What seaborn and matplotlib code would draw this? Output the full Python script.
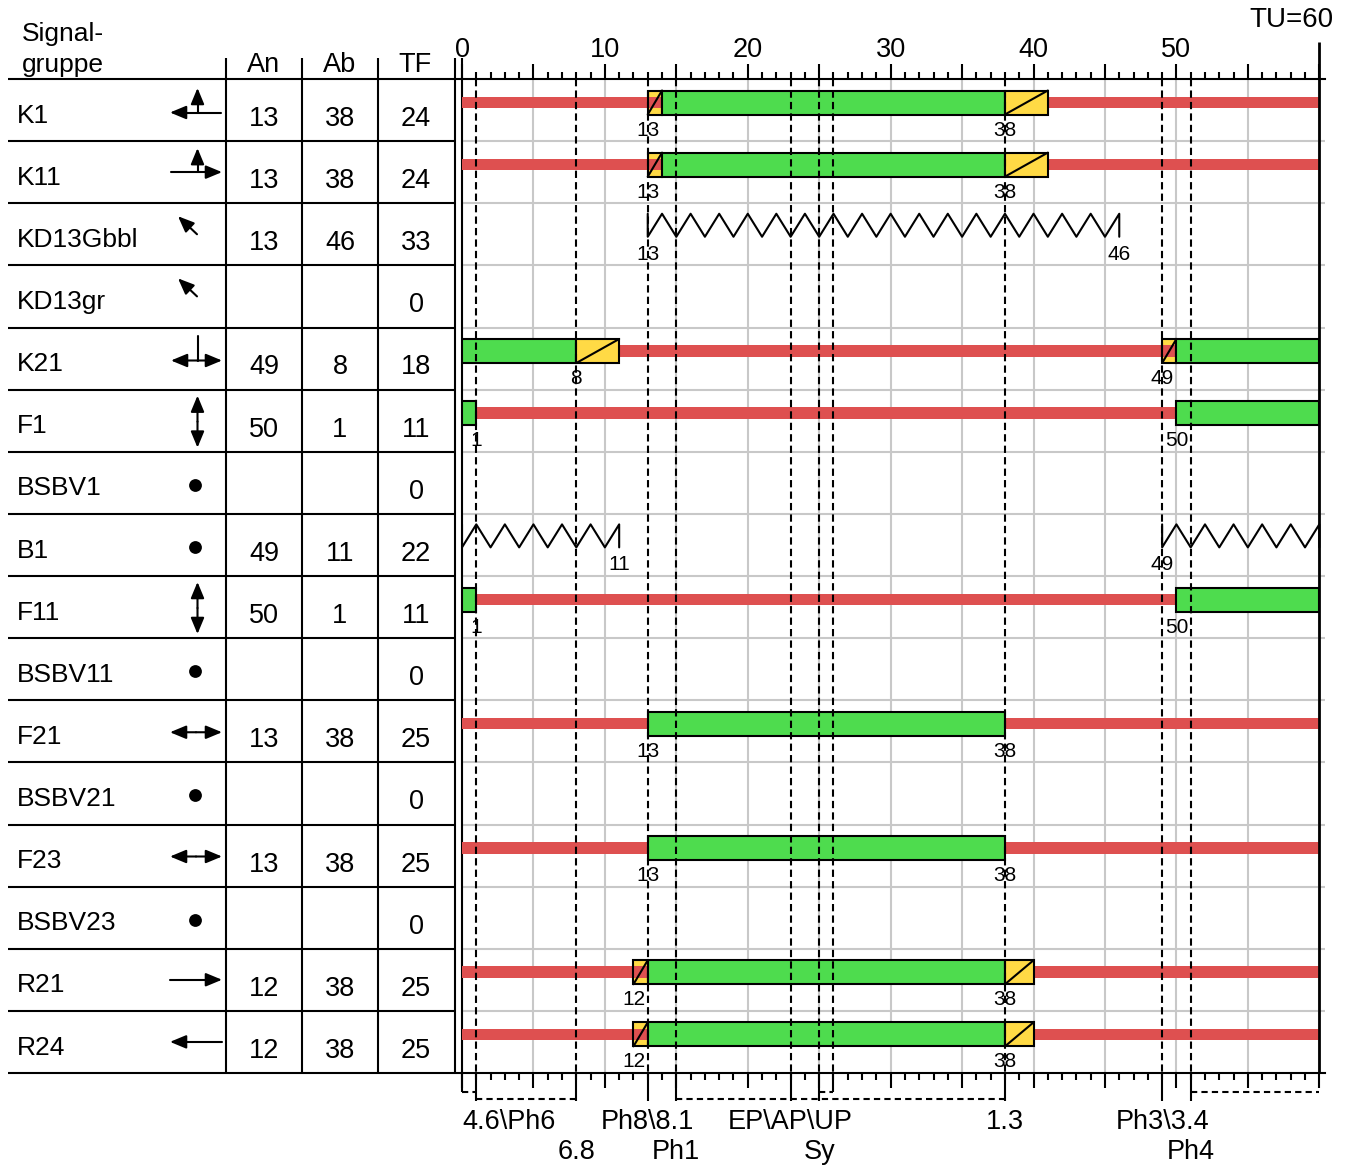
import numpy as np
import pandas as pd
import matplotlib
matplotlib.use("Agg")
import matplotlib.pyplot as plt
from matplotlib.ticker import MultipleLocator, FuncFormatter
import seaborn as sns

# ---------------- data ----------------
names = ["K1", "K11", "KD13Gbbl", "KD13gr", "K21", "F1", "BSBV1", "B1",
         "F11", "BSBV11", "F21", "BSBV21", "F23", "BSBV23", "R21", "R24"]
symbols = ["left_up", "right_up", "diag", "diag", "left_right_t", "up_down", "dot", "dot",
           "up_down", "dot", "left_right", "dot", "left_right", "dot", "right", "left"]
an = [13, 13, 13, None, 49, 50, None, 49, 50, None, 13, None, 13, None, 12, 12]
ab = [38, 38, 46, None, 8, 1, None, 11, 1, None, 38, None, 38, None, 38, 38]
tf = [24, 24, 33, 0, 18, 11, 0, 22, 11, 0, 25, 0, 25, 0, 25, 25]

red_iv = [[(0, 13), (41, 60)], [(0, 13), (41, 60)], [], [], [(11, 49)], [(1, 50)], [], [],
          [(1, 50)], [], [(0, 13), (38, 60)], [], [(0, 13), (38, 60)], [],
          [(0, 12), (40, 60)], [(0, 12), (40, 60)]]
redyellow_iv = [[(13, 14)], [(13, 14)], [], [], [(49, 50)], [], [], [],
                [], [], [], [], [], [], [(12, 13)], [(12, 13)]]
green_iv = [[(14, 38)], [(14, 38)], [], [], [(0, 8), (50, 60)], [(0, 1), (50, 60)], [], [],
            [(0, 1), (50, 60)], [], [(13, 38)], [], [(13, 38)], [], [(13, 38)], [(13, 38)]]
yellow_iv = [[(38, 41)], [(38, 41)], [], [], [(8, 11)], [], [], [],
             [], [], [], [], [], [], [(38, 40)], [(38, 40)]]
flash_iv = [[], [], [(13, 46)], [], [], [], [], [(0, 11), (49, 60)],
            [], [], [], [], [], [], [], []]

cycle = 60
stage_x = [1, 8, 13, 15, 23, 25, 26, 38, 49, 51]
long_ticks = [1, 8, 13, 15, 23, 25, 38, 49, 51]
short_ticks = [0, 26]
brackets_low = [(1, 8), (15, 38)]
brackets_high = [(0, 1), (25, 26), (51, 60)]
labels_line1 = [("4.6\\Ph6", 0, "left"), ("Ph8\\8.1", 13, "center"), ("EP\\AP\\UP", 23, "center"),
                ("1.3", 38, "center"), ("Ph3\\3.4", 49, "center")]
labels_line2 = [("6.8", 8), ("Ph1", 15), ("Sy", 25), ("Ph4", 51)]

RED = "#DE5050"
GREEN = "#4EDC4E"
YELLOW = "#FFDA45"
GRID = "#C8C8C8"

# ---------------- style ----------------
sns.set_theme(style="white")
plt.rcParams["font.family"] = ["Liberation Sans", "DejaVu Sans"]
plt.rcParams["text.color"] = "black"

W, H, DPI = 1348, 1166, 100
fig = plt.figure(figsize=(W / DPI, H / DPI), dpi=DPI, facecolor="white")
TOP, BOT = 79, 1073
NR = len(names)
RH = (BOT - TOP) / NR
X0, X60 = 462, 1319.3
PPU = (X60 - X0) / cycle
XR = 1325
LW = 1.5


def ry(px):
    return px / RH


ax_t = fig.add_axes([0, 1 - BOT / H, X0 / W, (BOT - TOP) / H])
ax = fig.add_axes([X0 / W, 1 - BOT / H, (XR - X0) / W, (BOT - TOP) / H])
ax.patch.set_alpha(0)

# ---------------- zigzag (flashing) via seaborn ----------------
TOPZ, BOTZ = ry(10.5), ry(33.5)
recs = []
seg = 0
for i, ivs in enumerate(flash_iv):
    for (s, e) in ivs:
        recs.append((s, i + TOPZ, seg))
        recs.append((s, i + BOTZ, seg))
        for k, xv in enumerate(range(s + 1, e + 1)):
            recs.append((xv, i + (TOPZ if k % 2 == 0 else BOTZ), seg))
        if (e - s) % 2 == 1:
            recs.append((e, i + BOTZ, seg))
        seg += 1
zz = pd.DataFrame(recs, columns=["t", "y", "seg"])
sns.lineplot(data=zz, x="t", y="y", units="seg", estimator=None, sort=False,
             color="black", lw=LW, ax=ax, legend=False, zorder=4)
ax.set_xlabel("")
ax.set_ylabel("")

# ---------------- bars ----------------
BAR_H = ry(11.5)
BOX_H = ry(24)
for i in range(NR):
    yc = i + ry(23.5)
    for (s, e) in redyellow_iv[i]:
        ax.barh(yc, e - s, left=s, height=BOX_H, color=YELLOW, lw=0, zorder=2)
        ax.barh(yc, e - s, left=s, height=BAR_H, color=RED, lw=0, zorder=3)
        ax.barh(yc, e - s, left=s, height=BOX_H, fill=False, edgecolor="black", lw=LW, zorder=4)
        ax.plot([s, e], [yc + BOX_H / 2, yc - BOX_H / 2], color="black", lw=LW, zorder=4)
    for (s, e) in red_iv[i]:
        ax.barh(yc, e - s, left=s, height=BAR_H, color=RED, lw=0, zorder=3)
    for (s, e) in green_iv[i]:
        ax.barh(yc, e - s, left=s, height=BOX_H, color=GREEN, edgecolor="black", lw=LW, zorder=4)
    for (s, e) in yellow_iv[i]:
        ax.barh(yc, e - s, left=s, height=BOX_H, color=YELLOW, edgecolor="black", lw=LW, zorder=4)
        ax.plot([s, e], [yc + BOX_H / 2, yc - BOX_H / 2], color="black", lw=LW, zorder=4)
    for v in (an[i], ab[i]):
        if v is not None:
            ax.text(v, i + ry(51), str(v), fontsize=15, ha="center", va="center",
                    color="black", zorder=6)

# stage dashed lines
ax.vlines(stage_x, 0, NR, colors="black", linestyles=(0, (3.5, 2)), lw=LW, zorder=5)

# ---------------- axes / ticks ----------------
ax.set_xlim(0, (XR - X0) / PPU)
ax.set_ylim(NR, 0)
ax.xaxis.set_major_locator(MultipleLocator(5))
ax.xaxis.set_minor_locator(MultipleLocator(1))
ax.xaxis.set_major_formatter(FuncFormatter(
    lambda v, p: str(int(round(v))) if (round(v) % 10 == 0 and round(v) < cycle) else ""))
ax.set_yticks(range(1, NR))
ax.tick_params(axis="y", left=False, right=False, labelleft=False)
ax.tick_params(axis="x", which="both", top=True, bottom=True, labeltop=True, labelbottom=False,
               direction="out", width=LW, color="black", labelcolor="black")
ax.tick_params(axis="x", which="major", length=10.8, labelsize=19.5, pad=1)
ax.tick_params(axis="x", which="minor", length=5)
ax.grid(True, which="major", color=GRID, lw=1.5)
ax.set_axisbelow(True)
for side in ("top", "bottom", "left"):
    ax.spines[side].set_visible(True)
    ax.spines[side].set_color("black")
    ax.spines[side].set_linewidth(LW)
ax.spines["right"].set_visible(False)

ax.vlines(0, -ry(21), 0, colors="black", lw=LW, clip_on=False)
ax.vlines(cycle, -ry(37), NR, colors="black", lw=LW + 0.5, clip_on=False, zorder=6)
ax.vlines(long_ticks, NR, NR + ry(28), colors="black", lw=LW, clip_on=False)
ax.vlines(short_ticks, NR, NR + ry(19), colors="black", lw=LW, clip_on=False)
for (s, e) in brackets_low:
    ax.hlines(NR + ry(26), s, e, colors="black", linestyles=(0, (3, 2)), lw=LW, clip_on=False)
for (s, e) in brackets_high:
    ax.hlines(NR + ry(19), s, e, colors="black", linestyles=(0, (3, 2)), lw=LW, clip_on=False)
for (txt, xv, ha) in labels_line1:
    ax.text(xv, NR + ry(49), txt, fontsize=19.5, ha=ha, va="center", color="black")
for (txt, xv) in labels_line2:
    ax.text(xv, NR + ry(79), txt, fontsize=19.5, ha="center", va="center", color="black")
ax.text((1333 - X0) / PPU, -ry(59), "TU=60", fontsize=20, ha="right", va="center", color="black")

# ---------------- table ----------------
ax_t.axis("off")
COLS = [226, 302, 378, 455]
ax_t.hlines(range(1, NR), 8, COLS[-1], colors="black", lw=LW)
ax_t.hlines([0, NR], 8, X0, colors="black", lw=LW, clip_on=False)
ax_t.vlines(COLS, -ry(21), NR, colors="black", lw=LW, clip_on=False)
ax_t.text(22, -ry(38), "Signal-", fontsize=19, ha="left", va="baseline", color="black")
ax_t.text(22, -ry(7), "gruppe", fontsize=19, ha="left", va="baseline", color="black")
for txt, xv in (("An", 264), ("Ab", 340), ("TF", 415)):
    ax_t.text(xv, -ry(6.5), txt, fontsize=19.5, ha="center", va="baseline", color="black")


def arrow(x0, y0, x1, y1):
    ax_t.annotate("", xy=(x1, y1), xytext=(x0, y0), annotation_clip=False,
                  arrowprops=dict(arrowstyle="-|>,head_length=0.65,head_width=0.27", color="black",
                                  lw=LW, shrinkA=0, shrinkB=0, mutation_scale=15))


def line(x0, y0, x1, y1):
    ax_t.plot([x0, x1], [y0, y1], color="black", lw=LW)


for i in range(NR):
    ax_t.text(17, i + ry(43.7), names[i], fontsize=19, ha="left", va="baseline", color="black")
    for xv, v in ((264, an[i]), (340, ab[i]), (416, tf[i])):
        if v is not None:
            ax_t.text(xv, i + ry(47), str(v), fontsize=19.5, ha="center", va="baseline",
                      color="black")
    sym = symbols[i]
    if sym == "left_up":
        y = i + ry(33.5)
        line(221, y, 185, y)
        arrow(185, y, 170, y)
        line(197.5, y, 197.5, i + ry(22))
        arrow(197.5, i + ry(22), 197.5, i + ry(9))
    elif sym == "right_up":
        y = i + ry(31)
        line(171, y, 208, y)
        arrow(208, y, 222, y)
        line(197.5, y, 197.5, i + ry(20))
        arrow(197.5, i + ry(20), 197.5, i + ry(7))
    elif sym == "diag":
        arrow(197, i + ry(31), 178, i + ry(13))
    elif sym == "left_right_t":
        y = i + ry(33)
        arrow(197.5, y, 171, y)
        arrow(197.5, y, 222, y)
        line(197.5, y, 197.5, i + ry(8))
    elif sym == "up_down":
        y = i + ry(32)
        arrow(197.5, y, 197.5, i + ry(6))
        arrow(197.5, y, 197.5, i + ry(58))
    elif sym == "dot":
        ax_t.scatter([195], [i + ry(33)], s=85, color="black", zorder=5, linewidths=0)
    elif sym == "left_right":
        y = i + ry(32)
        arrow(196, y, 170, y)
        arrow(196, y, 222, y)
    elif sym == "right":
        y = i + ry(31)
        line(170, y, 208, y)
        arrow(208, y, 222, y)
    elif sym == "left":
        y = i + ry(31)
        line(222, y, 184, y)
        arrow(184, y, 170, y)

ax_t.set_xlim(0, X0)
ax_t.set_ylim(NR, 0)

fig.savefig("out.png", dpi=DPI, facecolor="white")
